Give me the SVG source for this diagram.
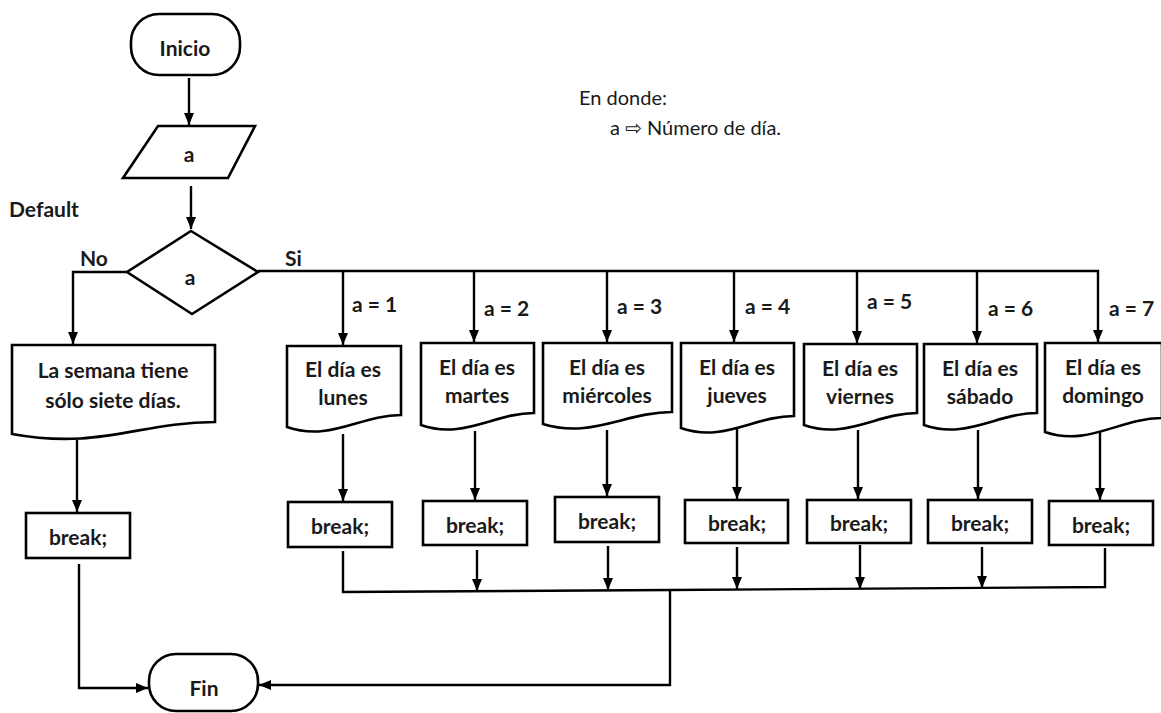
<svg xmlns="http://www.w3.org/2000/svg" width="1161" height="713" viewBox="0 0 1161 713">
  <style>
    .shape { fill: #ffffff; stroke: #000000; stroke-width: 2.6; stroke-linejoin: miter; }
    .wire { fill: none; stroke: #000000; stroke-width: 2.4; }
    .arrow { marker-end: url(#head); }
    .t { font-family: Lato, "Liberation Sans", sans-serif; font-weight: bold; font-size: 21px; fill: #1a1a1a; text-anchor: middle; dominant-baseline: central; }
    .lbl { font-family: Lato, "Liberation Sans", sans-serif; font-weight: bold; font-size: 21px; fill: #1a1a1a; dominant-baseline: central; }
    .note { font-family: Lato, "Liberation Sans", "DejaVu Sans", sans-serif; font-size: 20px; fill: #1a1a1a; dominant-baseline: central; }
  </style>
  <defs>
    <marker id="head" viewBox="0 0 12 10" refX="12" refY="5" markerWidth="12" markerHeight="10" markerUnits="userSpaceOnUse" orient="auto">
      <path d="M0,0 L12,5 L0,10 z" fill="#000"/>
    </marker>
  </defs>

  <rect width="1161" height="713" fill="#ffffff"/>

  <!-- legend -->
  <text class="note" x="579" y="97">En donde:</text>
  <text class="note" x="610" y="127">a ⇨ Número de día.</text>

  <!-- labels -->
  <text class="lbl" x="9" y="208" font-size="22">Default</text>
  <text class="lbl" x="80" y="257">No</text>
  <text class="lbl" x="285" y="257">Si</text>
  <text class="lbl" x="352" y="303">a = 1</text>
  <text class="lbl" x="484" y="307">a = 2</text>
  <text class="lbl" x="617" y="305">a = 3</text>
  <text class="lbl" x="745" y="305">a = 4</text>
  <text class="lbl" x="867" y="300">a = 5</text>
  <text class="lbl" x="988" y="307">a = 6</text>
  <text class="lbl" x="1109" y="307">a = 7</text>

  <!-- connectors -->
  <g id="connectors">
    <path class="wire arrow" d="M189,78 L189,125"/>
    <path class="wire arrow" d="M191,186 L191,229"/>
    <path class="wire arrow" d="M127,272 L73,272 L73,344"/>
    <path class="wire arrow" d="M258,271 L1098,271 L1098,342"/>
    <path class="wire arrow" d="M343,271 L343,345"/>
    <path class="wire arrow" d="M474,271 L474,342"/>
    <path class="wire arrow" d="M607,271 L607,342"/>
    <path class="wire arrow" d="M734,271 L734,342"/>
    <path class="wire arrow" d="M857,271 L857,343"/>
    <path class="wire arrow" d="M977,271 L977,343"/>

    <path class="wire arrow" d="M77,440 L77,512"/>
    <path class="wire arrow" d="M343,434 L343,501"/>
    <path class="wire arrow" d="M475,431 L475,500"/>
    <path class="wire arrow" d="M607,430 L607,496"/>
    <path class="wire arrow" d="M737,424 L737,499"/>
    <path class="wire arrow" d="M858,430 L858,499"/>
    <path class="wire arrow" d="M978,430 L978,499"/>
    <path class="wire arrow" d="M1100,428 L1100,500"/>

    <path class="wire" d="M343,551 L343,592 L670,590 L1105,587 L1105,548"/>
    <path class="wire arrow" d="M477,550 L477,591"/>
    <path class="wire arrow" d="M608,546 L608,590"/>
    <path class="wire arrow" d="M737,547 L737,589"/>
    <path class="wire arrow" d="M860,545 L860,589"/>
    <path class="wire arrow" d="M982,547 L982,588"/>

    <path class="wire arrow" d="M670,590 L670,685 L259,685"/>
    <path class="wire arrow" d="M79,564 L79,688 L148,688"/>
  </g>

  <!-- start / end -->
  <g id="inicio">
    <rect class="shape" x="131" y="14" width="109" height="61" rx="28"/>
    <text class="t" x="185" y="47">Inicio</text>
  </g>
  <g id="fin">
    <rect class="shape" x="149" y="654" width="109" height="57" rx="27"/>
    <text class="t" x="204" y="687">Fin</text>
  </g>

  <!-- input -->
  <g id="entrada">
    <path class="shape" d="M158,126 L255,126 L228,178 L123,178 Z"/>
    <text class="t" x="189" y="153">a</text>
  </g>

  <!-- decision -->
  <g id="decision">
    <path class="shape" d="M191,231 L258,272 L192,314 L127,272 Z"/>
    <text class="t" x="190" y="276">a</text>
  </g>

  <!-- output documents -->
  <g id="doc-default">
    <path class="shape" d="M12,345 L215,345 L215,422 C140,422 100,450 12,434 Z"/>
    <text class="t" x="113" y="369">La semana tiene</text>
    <text class="t" x="113" y="399">sólo siete días.</text>
  </g>
  <g id="doc-lunes">
    <path class="shape" d="M287,346 L401,346 L401,415 C360,415 330,442 287,427 Z"/>
    <text class="t" x="343" y="368">El día es</text>
    <text class="t" x="343" y="396">lunes</text>
  </g>
  <g id="doc-martes">
    <path class="shape" d="M421,343 L534,343 L534,413 C494,413 463,440 421,425 Z"/>
    <text class="t" x="477" y="366">El día es</text>
    <text class="t" x="477" y="394">martes</text>
  </g>
  <g id="doc-miercoles">
    <path class="shape" d="M543,343 L672,343 L672,412 C626,412 591,439 543,424 Z"/>
    <text class="t" x="607" y="366">El día es</text>
    <text class="t" x="607" y="394">miércoles</text>
  </g>
  <g id="doc-jueves">
    <path class="shape" d="M681,343 L794,343 L794,416 C754,416 723,443 681,428 Z"/>
    <text class="t" x="737" y="366">El día es</text>
    <text class="t" x="737" y="394">jueves</text>
  </g>
  <g id="doc-viernes">
    <path class="shape" d="M804,344 L917,344 L917,413 C877,413 846,440 804,425 Z"/>
    <text class="t" x="860" y="367">El día es</text>
    <text class="t" x="860" y="395">viernes</text>
  </g>
  <g id="doc-sabado">
    <path class="shape" d="M924,344 L1037,344 L1037,413 C997,413 966,440 924,425 Z"/>
    <text class="t" x="980" y="367">El día es</text>
    <text class="t" x="980" y="395">sábado</text>
  </g>
  <g id="doc-domingo">
    <path class="shape" d="M1045,343 L1162,343 L1162,418 C1120,418 1088,447 1045,432 Z"/>
    <text class="t" x="1103" y="366">El día es</text>
    <text class="t" x="1103" y="394">domingo</text>
  </g>

  <!-- break statements -->
  <g id="break-default">
    <rect class="shape" x="26" y="513" width="104" height="45"/>
    <text class="t" x="78" y="536">break;</text>
  </g>
  <g id="break-1">
    <rect class="shape" x="288" y="502" width="104" height="45"/>
    <text class="t" x="340" y="525">break;</text>
  </g>
  <g id="break-2">
    <rect class="shape" x="423" y="501" width="104" height="44"/>
    <text class="t" x="475" y="524">break;</text>
  </g>
  <g id="break-3">
    <rect class="shape" x="555" y="497" width="104" height="45"/>
    <text class="t" x="607" y="520">break;</text>
  </g>
  <g id="break-4">
    <rect class="shape" x="685" y="500" width="103" height="43"/>
    <text class="t" x="737" y="522">break;</text>
  </g>
  <g id="break-5">
    <rect class="shape" x="807" y="500" width="104" height="43"/>
    <text class="t" x="859" y="522">break;</text>
  </g>
  <g id="break-6">
    <rect class="shape" x="928" y="500" width="104" height="43"/>
    <text class="t" x="980" y="522">break;</text>
  </g>
  <g id="break-7">
    <rect class="shape" x="1049" y="501" width="104" height="44"/>
    <text class="t" x="1101" y="524">break;</text>
  </g>
</svg>
